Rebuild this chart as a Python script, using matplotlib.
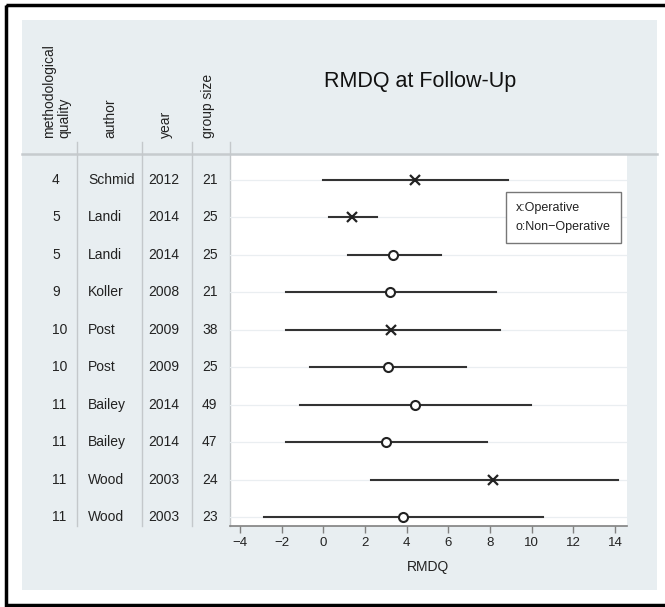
import matplotlib.pyplot as plt
from matplotlib.patches import Rectangle
from matplotlib.transforms import blended_transform_factory

plt.rcParams['font.family'] = ['Liberation Sans', 'DejaVu Sans']

# study table
quality = [4, 5, 5, 9, 10, 10, 11, 11, 11, 11]
authors = ['Schmid', 'Landi', 'Landi', 'Koller', 'Post', 'Post', 'Bailey', 'Bailey', 'Wood', 'Wood']
years = [2012, 2014, 2014, 2008, 2009, 2009, 2014, 2014, 2003, 2003]
group_size = [21, 25, 25, 21, 38, 25, 49, 47, 24, 23]

# RMDQ at follow-up: mean and CI
means = [4.40, 1.39, 3.36, 3.18, 3.26, 3.09, 4.40, 3.01, 8.14, 3.82]
ci_low = [0.0, 0.27, 1.17, -1.81, -1.81, -0.62, -1.12, -1.81, 2.27, -2.83]
ci_high = [8.88, 2.56, 5.65, 8.27, 8.48, 6.86, 9.97, 7.86, 14.16, 10.56]
operative = [True, True, False, False, True, False, False, False, True, False]

xticks = [-4, -2, 0, 2, 4, 6, 8, 10, 12, 14]

W, H = 665, 607
BG = '#e8eef1'
fig = plt.figure(figsize=(W / 100, H / 100), dpi=100)

# pixel canvas for frame, background and table
bg = fig.add_axes([0, 0, 1, 1])
bg.set_xlim(0, W)
bg.set_ylim(H, 0)
bg.axis('off')
bg.add_patch(Rectangle((6, 5), 680, 600, fill=False, ec='black', lw=2.5))
bg.add_patch(Rectangle((22, 20), 635, 570, fc=BG, ec='none'))
bg.add_patch(Rectangle((230, 155), 397, 371, fc='white', ec='none'))
bg.plot([22, 657], [153.5, 153.5], color='#c6cbce', lw=1.8)
for xd in [77, 142, 192, 230]:
    bg.plot([xd, xd], [142, 526], color='#c4c8cb', lw=1.0)

hdr_kw = dict(rotation=90, va='bottom', ha='center', fontsize=10, color='#222222')
bg.text(57, 138, 'methodological\nquality', multialignment='left', linespacing=1.1, **hdr_kw)
bg.text(110, 138, 'author', **hdr_kw)
bg.text(166, 138, 'year', **hdr_kw)
bg.text(208, 138, 'group size', **hdr_kw)
bg.text(420, 82, 'RMDQ at Follow-Up', ha='center', va='center', fontsize=15.5, color='#111111')

# forest plot
left, right, top, bottom = 230, 627, 155, 526
ax = fig.add_axes([left / W, 1 - bottom / H, (right - left) / W, (bottom - top) / H])
ax.set_facecolor('none')
ax.set_xlim(-4.477, 14.57)
ax.set_ylim(10.24, 0.34)
rows = list(range(1, len(means) + 1))

for r in rows:
    ax.axhline(r, color='#eaeef1', lw=0.9, zorder=0)

for r, m, lo, hi, op in zip(rows, means, ci_low, ci_high, operative):
    ax.plot([lo, hi], [r, r], color='#333333', lw=1.5, zorder=2)
    if op:
        ax.plot(m, r, marker='x', ms=7.5, mew=1.6, color='#222222', zorder=3)
    else:
        ax.plot(m, r, marker='o', ms=6.5, mew=1.5, mfc='white', mec='#222222', zorder=3)

for s in ['top', 'right', 'left']:
    ax.spines[s].set_visible(False)
ax.spines['bottom'].set_color('#808080')
ax.spines['bottom'].set_linewidth(1.2)
ax.set_yticks([])
ax.set_xticks(xticks)
ax.tick_params(axis='x', colors='#808080', length=5, width=1.0, labelsize=9.5, labelcolor='#222222', pad=3)
ax.set_xlabel('RMDQ', fontsize=10, color='#222222', labelpad=8)

ax.text(0.72, 0.832, 'x:Operative\no:Non\u2212Operative', transform=ax.transAxes,
        fontsize=9, color='#222222', va='center', ha='left', linespacing=1.75,
        bbox=dict(boxstyle='square,pad=0.8', fc='white', ec='#777777', lw=1.0))

# table rows aligned with the plot rows
to_ax = lambda px: (px - left) / (right - left)
tr = blended_transform_factory(ax.transAxes, ax.transData)
for r, q, a, yv, g in zip(rows, quality, authors, years, group_size):
    kw = dict(transform=tr, va='center', ha='left', fontsize=10, color='#222222', clip_on=False)
    ax.text(to_ax(52), r, str(q), **kw)
    ax.text(to_ax(88), r, a, **kw)
    ax.text(to_ax(148), r, str(yv), **kw)
    ax.text(to_ax(202), r, str(g), **kw)

fig.savefig('out.png', dpi=100)
